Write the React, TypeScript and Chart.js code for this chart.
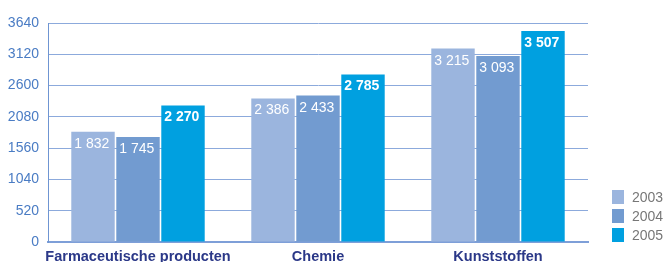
import React, { useEffect, useRef } from "react";
import { Chart, registerables } from "chart.js";

Chart.register(...registerables);

const categories = ["Farmaceutische producten", "Chemie", "Kunststoffen"];
const years = ["2003", "2004", "2005"];
const values2003 = [1832, 2386, 3215];
const values2004 = [1745, 2433, 3093];
const values2005 = [2270, 2785, 3507];
const yTicks = [0, 520, 1040, 1560, 2080, 2600, 3120, 3640];
const colors = ["#9bb5de", "#729bd0", "#00a0e0"];

const FONT = "'Liberation Sans', Arial, Helvetica, sans-serif";

const fmt = (v: number) => String(v).replace(/\B(?=(\d{3})+(?!\d))/g, " ");

const labelPlugin = {
  id: "barLabels",
  afterDatasetsDraw(chart: any) {
    const ctx = chart.ctx;
    ctx.save();
    chart.data.datasets.forEach((ds: any, di: number) => {
      const meta = chart.getDatasetMeta(di);
      meta.data.forEach((bar: any, i: number) => {
        const left = bar.x - bar.width / 2;
        ctx.fillStyle = "#ffffff";
        ctx.font = (di === 2 ? "bold " : "") + "14px " + FONT;
        ctx.textAlign = "left";
        ctx.textBaseline = "alphabetic";
        ctx.fillText(fmt(ds.data[i]), left + 3, bar.y + 16);
      });
    });
    ctx.restore();
  },
};

const legendPlugin = {
  id: "customLegend",
  afterDraw(chart: any) {
    const ctx = chart.ctx;
    const area = chart.chartArea;
    ctx.save();
    chart.data.datasets.forEach((ds: any, di: number) => {
      const cy = area.bottom - 7 - (2 - di) * 19;
      const x = area.right + 24;
      ctx.fillStyle = ds.backgroundColor;
      ctx.fillRect(x, cy - 7, 12, 14);
      ctx.fillStyle = "#777777";
      ctx.font = "14px " + FONT;
      ctx.textAlign = "left";
      ctx.textBaseline = "middle";
      ctx.fillText(ds.label, x + 20, cy + 1);
    });
    ctx.restore();
  },
};

export default function App() {
  const ref = useRef<HTMLCanvasElement>(null);
  useEffect(() => {
    if (!ref.current) return;
    const chart = new Chart(ref.current, {
      type: "bar",
      data: {
        labels: categories,
        datasets: [values2003, values2004, values2005].map((d, i) => ({
          label: years[i],
          data: d,
          backgroundColor: colors[i],
          categoryPercentage: 0.75,
          barPercentage: 0.965,
        })),
      },
      plugins: [labelPlugin, legendPlugin],
      options: {
        animation: false,
        responsive: false,
        maintainAspectRatio: false,
        layout: { padding: { top: 23, right: 78, left: 0, bottom: 0 } },
        plugins: {
          legend: { display: false },
          tooltip: { enabled: false },
        },
        scales: {
          x: {
            grid: { display: false, drawTicks: false },
            border: { display: true, color: "#7e9fd8", width: 2 },
            ticks: {
              color: "#2b3888",
              font: { family: FONT, size: 14.5, weight: "bold" },
              padding: 6,
              maxRotation: 0,
              autoSkip: false,
            },
            afterFit: (s: any) => {
              s.height = 20;
            },
          },
          y: {
            min: 0,
            max: 3640,
            afterBuildTicks: (s: any) => {
              s.ticks = yTicks.map((v) => ({ value: v }));
            },
            grid: { color: "#8caadc", lineWidth: 1, drawTicks: false },
            border: { display: true, color: "#6f95d2", width: 1 },
            ticks: {
              color: "#4a7cc4",
              font: { family: FONT, size: 14 },
              padding: 9,
              callback: (v: any) => String(v),
            },
            afterFit: (s: any) => {
              s.width = 48;
            },
          },
        },
      },
    });
    return () => chart.destroy();
  }, []);
  return (
    <div style={{ position: "fixed", left: 0, top: 0, width: 666, height: 262, background: "#fff" }}>
      <canvas ref={ref} width={666} height={262} style={{ width: 666, height: 262 }} />
    </div>
  );
}
